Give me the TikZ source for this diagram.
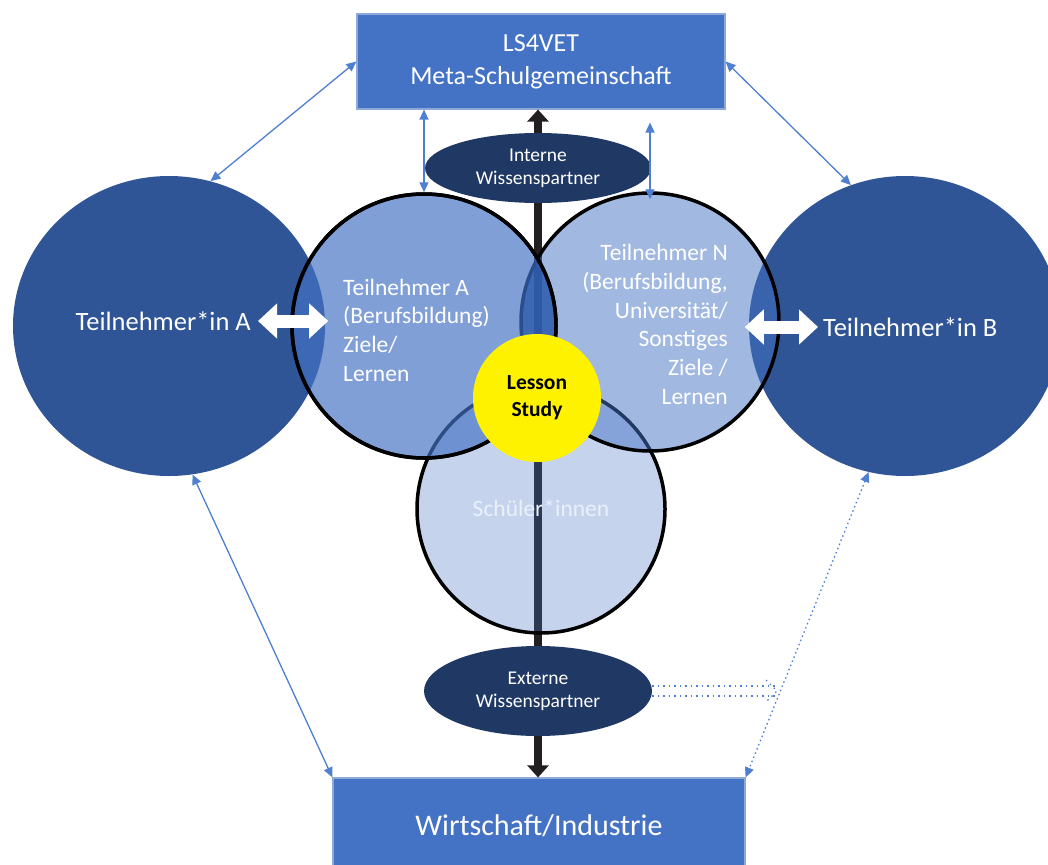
\documentclass[tikz,border=0pt]{standalone}
\usepackage{fontspec}
\setmainfont{Carlito}
\usetikzlibrary{shapes.geometric,arrows.meta}
\definecolor{officeblue}{HTML}{4472C4}
\definecolor{darkblue}{HTML}{2F5597}
\definecolor{navyblue}{HTML}{1F3864}
\definecolor{arrowblack}{HTML}{231F20}
\definecolor{boxborder}{HTML}{8EA8D8}
\definecolor{linkblue}{HTML}{4F7FD0}
\definecolor{lensblue}{HTML}{1F4FA0}
\definecolor{studytext}{HTML}{EAF0F9}
\begin{document}
\begin{tikzpicture}[x=1pt,y=-1pt,
  box/.style={rectangle, fill=officeblue, draw=boxborder, line width=1.2pt, text=white, align=center, inner sep=0pt},
  bigcirc/.style={ellipse, fill=darkblue, minimum width=312pt, minimum height=300pt, inner sep=0pt},
  ring/.style={circle, draw=black, line width=3.5pt, fill=officeblue, inner sep=0pt},
  wissen/.style={ellipse, fill=navyblue, text=white, align=center, inner sep=0pt, font=\fontsize{19.5}{23}\selectfont},
  thinarrow/.style={draw=linkblue, line width=1.3pt, {Triangle[length=10pt,width=9pt]}-{Triangle[length=10pt,width=9pt]}},
  dotline/.style={draw=linkblue, line width=1.3pt, dash pattern=on 1.5pt off 4pt},
  whitearrow/.style={draw=white, line width=13pt, {Triangle[length=19pt,width=34pt]}-{Triangle[length=19pt,width=34pt]}},
  bigarrow/.style={draw=arrowblack, line width=8pt, {Triangle[length=12pt,width=21pt]}-{Triangle[length=12pt,width=21pt]}},
  circtext/.style={text=white, inner sep=0pt, font=\fontsize{23.5}{28.7}\selectfont},
  sidetext/.style={text=white, inner sep=0pt, font=\fontsize{26.5}{32}\selectfont}
]
\useasboundingbox (0,0) rectangle (1048,864);

% boxes
\node[box, minimum width=368pt, minimum height=95pt, font=\fontsize{26}{33}\selectfont] (ls) at (541,61.5) {LS4VET\\Meta-Schulgemeinschaft};
\node[box, minimum width=412pt, minimum height=96pt, font=\fontsize{30}{36}\selectfont] (wi) at (539,826) {Wirtschaft/Industrie};

% big participant circles
\node[bigcirc] (bigL) at (169,326) {};
\node[bigcirc] (bigR) at (905,326) {};

% ellipse centres
\path (538,168) coordinate (intc);
\path (538,691) coordinate (extc);

% central thick arrow
\draw[bigarrow] (intc |- wi.north) -- (intc |- ls.south);

% overlapping circles
\node[ring, minimum size=248pt, fill opacity=0.31] (S) at (541,509) {};
\node[ring, minimum size=258pt, fill opacity=0.5] (N) at (650,322) {};
\node[ring, minimum size=264pt, fill opacity=0.68] (A) at (424,326) {};
\begin{scope}
  \clip (A.center) circle (132pt);
  \fill[lensblue, fill opacity=0.55] (N.center) circle (129pt);
\end{scope}
\draw[black, line width=3.5pt] (A.center) circle (132pt);

% Lesson Study
\node[circle, fill=yellow, minimum size=128pt, inner sep=0pt, align=center, font=\fontsize{21.5}{27}\selectfont\bfseries] (LS) at (537,398) {Lesson\\Study};

% knowledge partner ellipses
\node[wissen, minimum width=226pt, minimum height=70pt] (int) at (intc) {Interne\\Wissenspartner};
\node[wissen, minimum width=228pt, minimum height=90pt] (ext) at (extc) {Externe\\Wissenspartner};

% texts
\node[sidetext, anchor=east] (tA) at (251,321) {Teilnehmer*in A};
\node[sidetext, anchor=west] (tB) at (823,327) {Teilnehmer*in B};
\node[circtext, anchor=west, align=left] (txA) at (343,330) {Teilnehmer A\\(Berufsbildung)\\Ziele/\\Lernen};
\node[circtext, anchor=east, align=right] (txN) at (728,324.5) {Teilnehmer N\\(Berufsbildung,\\Universität/\\Sonstiges\\Ziele /\\Lernen};
\node[circtext, text=studytext] (txS) at (541,508) {Schüler*innen};

% white double arrows
\draw[whitearrow] ([xshift=7pt]tA.east) -- ([xshift=3pt]bigL.east |- tA.east);
\draw[whitearrow] ([xshift=-4pt]bigR.west |- tB.west) -- ([xshift=-5pt]tB.west);

% thin connectors
\draw[thinarrow] (ls.west) -- (bigL.74);
\draw[thinarrow] (ls.east) -- (bigR.111);
\draw[thinarrow] (A.north) -- (A.north |- ls.south);
\draw[thinarrow] ([yshift=-8pt]N.north) -- ([yshift=-13pt]N.north |- ls.south);
\draw[thinarrow] (bigL.-81) -- (wi.north west);
\draw[thinarrow, dash pattern=on 1.5pt off 3pt] (bigR.-104) -- (wi.north east);

% dotted double arrow from external partners
\coordinate (chev) at (777,691);
\draw[dotline] ([yshift=5pt]ext.east) -- ([yshift=5pt]ext.east -| chev);
\draw[dotline] ([yshift=-5pt]ext.east) -- ([yshift=-5pt]ext.east -| chev);
\draw[dotline] ([shift={(-11,-11)}]chev) -- (chev) -- ([shift={(-11,11)}]chev);
\end{tikzpicture}
\end{document}
